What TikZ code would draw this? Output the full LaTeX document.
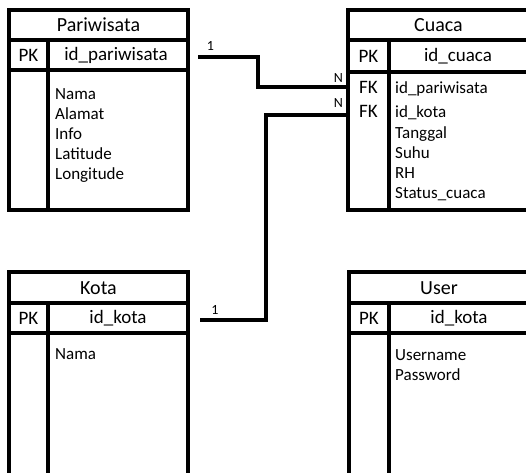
\documentclass[tikz,border=0pt]{standalone}
\usepackage{fontspec}
\setmainfont{Carlito}
\usepackage{tikz}
\tikzset{>=latex}
\tikzset{
    tbl/.style={line width=3.5pt},
    conn/.style={line width=3.5pt},
    title/.style={font=\fontsize{20}{20}\selectfont, inner sep=0pt},
    keyrow/.style={font=\fontsize{19}{19}\selectfont, inner sep=0pt},
    attr/.style={font=\fontsize{17}{17}\selectfont, inner sep=0pt, anchor=base west},
    card/.style={font=\fontsize{14}{14}\selectfont, inner sep=0pt}
}

\begin{document}
\begin{tikzpicture}[x=1pt, y=-1pt]
    \useasboundingbox(0, 0)rectangle(526, 472);
    \clip(0, 0)rectangle(526, 472);
    % Pariwisata
    \draw[tbl](9, 10)rectangle(188, 210);
    \draw[tbl](9, 40)--(188, 40) (9, 70)--(188, 70) (48, 40)--(48, 210);
    \node[title] (par) at(98.5, 25){Pariwisata};
    \node[keyrow] (parpk) at(28.5, 55){PK};
    \node[keyrow] (parid) at(116, 55){id\_pariwisata};
    \foreach \t [count=\i] in {Nama, Alamat, Info, Latitude, Longitude}
        \node[attr] at(55, 79+20*\i){\t};
    % Cuaca
    \draw[tbl](348, 10)rectangle(529, 210);
    \draw[tbl](348, 40)--(529, 40) (348, 72)--(529, 72) (389, 40)--(389, 210);
    \node[title] (cua) at(438.5, 25){Cuaca};
    \node[keyrow] (cuapk) at(368.5, 56){PK};
    \node[keyrow] (cuaid) at(458, 56){id\_cuaca};
    \node[keyrow, anchor=base] (fka) at(368.5, 93){FK};
    \node[keyrow, anchor=base] (fkb) at(368.5, 117){FK};
    \node[attr] at(395, 93){id\_pariwisata};
    \node[attr] at(395, 117){id\_kota};
    \foreach \t [count=\i] in {Tanggal, Suhu, RH, Status\_cuaca}
        \node[attr] at(395, 118+20*\i){\t};
    % Kota
    \draw[tbl](9, 272)rectangle(188, 480);
    \draw[tbl](9, 303)--(188, 303) (9, 333)--(188, 333) (48, 303)--(48, 480);
    \node[title] (kot) at(98.5, 288){Kota};
    \node[keyrow] (kotpk) at(28.5, 318){PK};
    \node[keyrow] (kotid) at(118, 318){id\_kota};
    \node[attr] at(55, 359){Nama};
    % User
    \draw[tbl](349, 272)rectangle(529, 480);
    \draw[tbl](349, 303)--(529, 303) (349, 333)--(529, 333) (389, 303)--(389, 480);
    \node[title] (usr) at(439, 288){User};
    \node[keyrow] (usrpk) at(369, 318){PK};
    \node[keyrow] (usrid) at(459, 318){id\_kota};
    \node[attr] at(395, 360){Username};
    \node[attr] at(395, 380){Password};
    % relasi
    \coordinate (r1a) at(198, 57);
    \coordinate (r1b) at(348, 87);
    \coordinate (r2a) at(200, 320);
    \coordinate (r2b) at(348, 115);
    \draw[conn](r1a)-|(258, 87)--(r1b);
    \draw[conn](r2b)-|(266, 320)--(r2a);
    \node[card] at(210.5, 46){1};
    \node[card] at(215, 310){1};
    \node[card] at(338.5, 78){N};
    \node[card] at(338.5, 103){N};
\end{tikzpicture}
\end{document}
